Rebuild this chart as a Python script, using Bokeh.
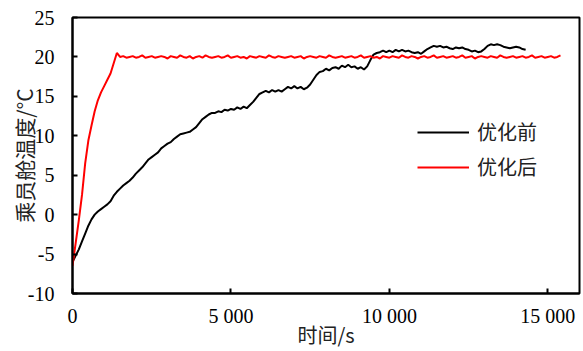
from bokeh.plotting import figure
from bokeh.models import Range1d, FixedTicker, Legend, LegendItem
from bokeh.embed import file_html
from bokeh.resources import INLINE
import numpy as np

# 优化前 (before optimisation), sampled every 100 s
before_t_step = 100
before_vals = [
    -6.0, -5.2, -4.4, -3.4, -2.4, -1.4, -0.6, 0.0, 0.4, 0.7,
    1.0, 1.3, 1.7, 2.4, 2.9, 3.3, 3.7, 4.0, 4.3, 4.7,
    5.2, 5.6, 6.0, 6.5, 7.0, 7.3, 7.6, 7.9, 8.4, 8.7,
    9.0, 9.2, 9.6, 9.9, 10.2, 10.3, 10.4, 10.5, 10.8, 11.1,
    11.6, 12.1, 12.4, 12.7, 12.9, 12.9, 13.1, 13.0, 13.3, 13.2,
    13.4, 13.3, 13.6, 13.4, 13.7, 13.5, 13.9, 14.3, 14.8, 15.3,
    15.5, 15.7, 15.5, 15.8, 15.6, 15.8, 15.6, 15.9, 16.2, 16.0,
    16.3, 16.0, 16.2, 15.9, 16.1, 16.5, 17.1, 17.7, 18.1, 18.2,
    18.5, 18.3, 18.6, 18.7, 18.5, 18.9, 18.7, 19.0, 18.7, 18.8,
    18.5, 18.7, 18.4, 18.8, 19.6, 20.3, 20.5, 20.6, 20.8, 20.6,
    20.8, 20.6, 20.9, 20.7, 20.9, 20.7, 20.8, 20.6, 20.5, 20.6,
    20.4, 20.7, 21.0, 21.2, 21.4, 21.3, 21.4, 21.2, 21.3, 21.1,
    21.0, 21.2, 21.1, 21.2, 21.0, 20.9, 20.7, 20.8, 20.6, 20.7,
    21.0, 21.4, 21.6, 21.5, 21.6, 21.5, 21.3, 21.2, 21.1, 21.2,
    21.3, 21.2, 21.0, 20.9,
]

# 优化后 (after optimisation), sampled every 100 s
after_t_step = 100
after_vals = [
    -6.5, -3.6, -0.7, 2.5, 6.5, 9.4, 11.3, 13.1, 14.5, 15.5,
    16.3, 17.1, 17.9, 19.2, 20.5, 20.0, 20.1, 19.9, 20.0, 20.1,
    19.9, 20.0, 20.2, 19.9, 20.0, 20.1, 19.9, 20.0, 20.1, 20.0,
    19.8, 20.1, 20.0, 19.9, 20.2, 20.0, 19.9, 20.1, 19.8, 20.0,
    20.1, 19.9, 20.2, 20.0, 19.9, 20.0, 20.1, 19.9, 20.0, 20.2,
    19.9, 20.0, 20.1, 19.9, 20.0, 19.8, 20.1, 20.0, 19.9, 20.1,
    20.0, 19.9, 20.2, 20.0, 19.9, 20.1, 20.0, 19.9, 20.0, 20.1,
    19.9, 20.0, 20.1, 19.8, 20.0, 20.1, 20.0, 19.9, 20.1, 20.0,
    19.9, 20.2, 20.0, 19.9, 20.0, 20.1, 19.9, 20.0, 20.1, 19.9,
    20.0, 20.2, 19.9, 20.0, 20.1, 19.9, 20.0, 19.8, 20.1, 20.0,
    19.9, 20.1, 20.0, 19.9, 20.2, 20.0, 19.9, 20.1, 20.0, 19.8,
    20.0, 20.1, 19.9, 20.0, 20.2, 19.9, 20.0, 20.1, 19.9, 20.0,
    20.1, 19.9, 20.0, 20.2, 19.9, 20.0, 20.1, 19.8, 20.0, 20.1,
    20.0, 19.9, 20.1, 20.0, 19.9, 20.2, 20.0, 19.9, 20.0, 20.1,
    19.9, 20.0, 20.1, 19.9, 20.0, 20.2, 19.9, 20.0, 20.1, 19.9,
    20.0, 20.1, 19.9, 20.0, 20.2,
]

before_t = np.arange(len(before_vals)) * before_t_step
after_t = np.arange(len(after_vals)) * after_t_step

x_ticks = [0, 5000, 10000, 15000]
x_tick_labels = ["0", "5 000", "10 000", "15 000"]
y_ticks = [-10, -5, 0, 5, 10, 15, 20, 25]
y_tick_labels = ["-10", "-5", "0", "5", "10", "15", "20", "25"]

series_names = ["优化前", "优化后"]
series_colors = ["#000000", "#ff0000"]
x_title = "时间/s"
y_title = "乘员舱温度/°C"

p = figure(width=583, height=351, output_backend="svg", toolbar_location=None,
           x_range=Range1d(0, 16000), y_range=Range1d(-10, 25),
           min_border_left=72, min_border_right=4, min_border_top=17, min_border_bottom=57)

p.grid.visible = False
p.outline_line_color = "black"
p.outline_line_width = 2
p.background_fill_color = "white"
p.border_fill_color = "white"

r1 = p.line(before_t, before_vals, line_color=series_colors[0], line_width=2)
r2 = p.line(after_t, after_vals, line_color=series_colors[1], line_width=2)

serif = "Liberation Serif"
cjk = "Noto Sans CJK SC"

for ax in (p.xaxis[0], p.yaxis[0]):
    ax.axis_line_color = "black"
    ax.axis_line_width = 2
    ax.major_tick_line_width = 2
    ax.major_tick_in = 5
    ax.major_tick_out = 0
    ax.minor_tick_line_color = None
    ax.major_label_text_font = serif
    ax.major_label_text_font_size = "20px"
    ax.major_label_text_color = "black"
    ax.axis_label_text_font = cjk
    ax.axis_label_text_font_style = "normal"
    ax.axis_label_text_color = "#222222"

p.xaxis[0].ticker = FixedTicker(ticks=x_ticks)
p.xaxis[0].major_label_overrides = {t: l for t, l in zip(x_ticks, x_tick_labels)}
p.xaxis[0].major_label_standoff = 11
p.xaxis[0].axis_label = x_title
p.xaxis[0].axis_label_text_font_size = "20px"
p.xaxis[0].axis_label_standoff = -10

p.yaxis[0].ticker = FixedTicker(ticks=y_ticks)
p.yaxis[0].major_label_overrides = {t: l for t, l in zip(y_ticks, y_tick_labels)}
p.yaxis[0].major_label_standoff = 18
p.yaxis[0].axis_label = y_title
p.yaxis[0].axis_label_text_font_size = "21px"
p.yaxis[0].axis_label_standoff = -14

legend = Legend(items=[LegendItem(label=series_names[0], renderers=[r1]),
                       LegendItem(label=series_names[1], renderers=[r2])],
                location=(345, 112))
legend.label_text_font = cjk
legend.label_text_font_size = "20px"
legend.label_text_color = "#222222"
legend.glyph_width = 52
legend.glyph_height = 20
legend.label_standoff = 8
legend.spacing = 6
legend.border_line_color = None
legend.background_fill_alpha = 0
legend.padding = 0
legend.margin = 0
p.add_layout(legend, "center")

open("out.html", "w").write(file_html(p, INLINE))
